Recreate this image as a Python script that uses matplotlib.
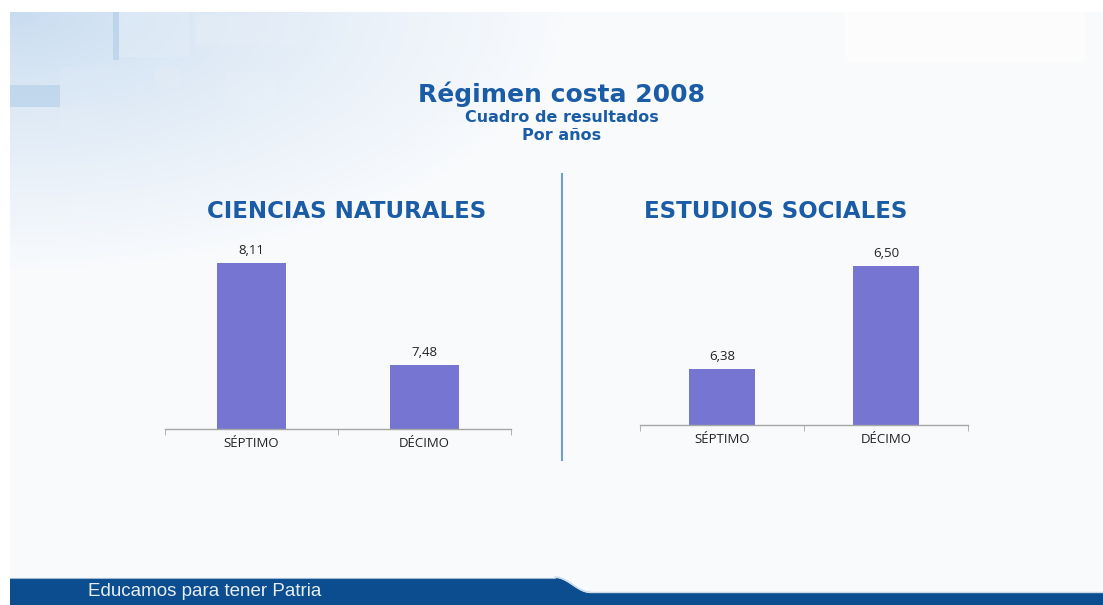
import numpy as np
import matplotlib
matplotlib.use('Agg')
import matplotlib.pyplot as plt
from matplotlib.patches import Rectangle, Polygon

W, H = 1103, 605

TITLE = 'Régimen costa 2008'
SUBTITLE_1 = 'Cuadro de resultados'
SUBTITLE_2 = 'Por años'
FOOTER = 'Educamos para tener Patria'

CATEGORIES = ['SÉPTIMO', 'DÉCIMO']
PANEL_TITLES = ['CIENCIAS NATURALES', 'ESTUDIOS SOCIALES']
NATURALES = [8.11, 7.48]
SOCIALES = [6.38, 6.50]

BLUE_TEXT = '#1a5ca5'
BAR_COLOR = '#7676d2'
BANNER = '#0b4d8f'


def px_axes(fig, x0, y0, x1, y1, **kw):
    #pixel box (top-left origin) to figure fraction
    return fig.add_axes([x0 / W, 1 - y1 / H, (x1 - x0) / W, (y1 - y0) / H], **kw)


def draw_background(fig):
    bg = fig.add_axes([0, 0, 1, 1])
    bg.set_xlim(0, W)
    bg.set_ylim(H, 0)
    bg.axis('off')

    #soft gradient fading out from the top-left corner
    yy, xx = np.mgrid[0:H - 12, 0:W - 10]
    d = np.sqrt((xx / 560.0) ** 2 + (yy / 260.0) ** 2)
    t = np.clip(d, 0, 1)[..., None] ** 0.8
    c0 = np.array([0.78, 0.86, 0.94])
    c1 = np.array([0.975, 0.982, 0.992])
    img = c0 * (1 - t) + c1 * t
    bg.imshow(img, extent=[10, W, H, 12], aspect='auto', zorder=0, interpolation='bilinear')

    #decorative squares top left
    squares = [
        (113, 12, 6, 48, '#a8c8e6', 0.5),
        (119, 12, 70, 45, '#e4eef8', 0.45),
        (195, 15, 105, 30, '#e8f0f8', 0.4),
        (10, 85, 50, 22, '#aecbe6', 0.55),
        (60, 67, 52, 18, '#dfeaf5', 0.4),
        (60, 107, 35, 38, '#e4eef8', 0.35),
        (155, 67, 25, 20, '#e6eff8', 0.3),
        (225, 72, 50, 33, '#e9f1f9', 0.4),
    ]
    for x, y, w, h, c, a in squares:
        bg.add_patch(Rectangle((x, y), w, h, facecolor=c, edgecolor='none', alpha=a, zorder=1))

    bg.add_patch(Rectangle((845, 12), 240, 50, facecolor='white', edgecolor='none', alpha=0.6, zorder=1))

    #white page margins
    bg.add_patch(Rectangle((0, 0), W, 12, facecolor='white', edgecolor='none', zorder=2))
    bg.add_patch(Rectangle((0, 0), 10, H, facecolor='white', edgecolor='none', zorder=2))

    #bottom banner with the curved step
    xs = np.linspace(555, 590, 20)
    ys = 578 + 15 * (0.5 - 0.5 * np.cos(np.pi * (xs - 555) / 35))
    pts = [(10, 578)] + list(zip(xs, ys)) + [(W, 593), (W, H), (10, H)]
    bg.add_patch(Polygon(pts, closed=True, facecolor=BANNER, edgecolor='none', zorder=3))
    bg.plot(xs, ys - 1, color='#c9d9ea', lw=1.0, zorder=3)
    bg.plot([590, W], [592, 592], color='#c9d9ea', lw=1.0, zorder=3)
    bg.plot([10, 555], [577.5, 577.5], color='#9fb8d3', lw=0.8, zorder=3)
    bg.text(88, 592, FOOTER, color='#e6edf5', fontsize=13.5, family='Liberation Sans',
            va='center', ha='left', zorder=4)

    #separator between the two charts
    bg.plot([562, 562], [174, 460], color='#6f9fd4', lw=1.5, zorder=2)

    #titles
    bg.text(562, 94, TITLE, color=BLUE_TEXT, fontsize=18, fontweight='bold',
            family='DejaVu Sans', ha='center', va='center', zorder=4)
    bg.text(562, 117, SUBTITLE_1, color=BLUE_TEXT, fontsize=11.5, fontweight='bold',
            family='DejaVu Sans', ha='center', va='center', zorder=4)
    bg.text(562, 135, SUBTITLE_2, color=BLUE_TEXT, fontsize=11.5, fontweight='bold',
            family='DejaVu Sans', ha='center', va='center', zorder=4)
    bg.text(347, 211, PANEL_TITLES[0], color=BLUE_TEXT, fontsize=16.5, fontweight='bold',
            family='DejaVu Sans', ha='center', va='center', zorder=4)
    bg.text(776, 211, PANEL_TITLES[1], color=BLUE_TEXT, fontsize=16.5, fontweight='bold',
            family='DejaVu Sans', ha='center', va='center', zorder=4)


def draw_bars(ax, values, ylim):
    x = np.arange(len(CATEGORIES))
    ax.bar(x, values, width=0.4, color=BAR_COLOR, zorder=2)
    ax.set_xlim(-0.5, len(CATEGORIES) - 0.5)
    ax.set_ylim(*ylim)
    ax.patch.set_alpha(0)
    for s in ['top', 'left', 'right']:
        ax.spines[s].set_visible(False)
    ax.spines['bottom'].set_color('#a6a6a6')
    ax.spines['bottom'].set_linewidth(1.0)
    ax.set_yticks([])
    ax.set_xticks(x)
    ax.set_xticklabels(CATEGORIES, family='Open Sans', fontsize=9.5, color='#222222')
    ax.set_xticks(np.arange(len(CATEGORIES) + 1) - 0.5, minor=True)
    ax.tick_params(axis='x', which='major', length=0, pad=6)
    ax.tick_params(axis='x', which='minor', length=4, color='#a6a6a6', direction='out')
    for xi, v in zip(x, values):
        ax.annotate(f'{v:.2f}'.replace('.', ','), (xi, v), xytext=(0, 4), textcoords='offset points',
                    ha='center', va='bottom', family='Open Sans', fontsize=9.5, color='#222222')


fig = plt.figure(figsize=(W / 100, H / 100), dpi=100)
fig.patch.set_facecolor('white')
draw_background(fig)

ax1 = px_axes(fig, 165, 245, 511, 429)
draw_bars(ax1, NATURALES, (7.085, 8.221))

ax2 = px_axes(fig, 640, 245, 968, 425)
draw_bars(ax2, SOCIALES, (6.3147, 6.5245))

fig.savefig('out.png', dpi=100)
plt.close(fig)
